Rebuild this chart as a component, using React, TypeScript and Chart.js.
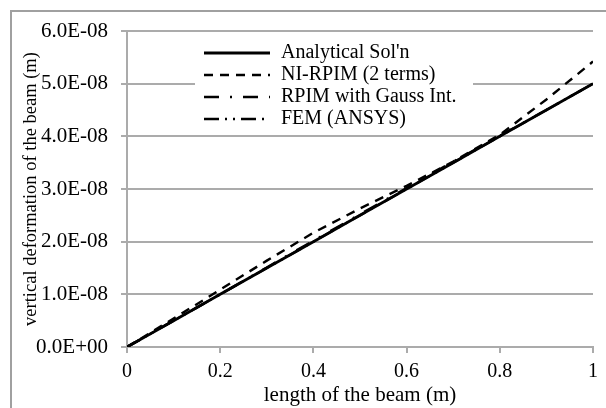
import React, { useEffect, useRef } from "react";
import { Chart, registerables } from "chart.js";

Chart.register(...registerables);

const xValues = [0, 0.1, 0.2, 0.3, 0.4, 0.5, 0.6, 0.7, 0.8, 0.9, 1.0];
const analytical = [0, 0.5e-8, 1.0e-8, 1.5e-8, 2.0e-8, 2.5e-8, 3.0e-8, 3.5e-8, 4.0e-8, 4.5e-8, 5.0e-8];
const niRpim = [0, 0.54e-8, 1.09e-8, 1.64e-8, 2.17e-8, 2.63e-8, 3.06e-8, 3.52e-8, 4.03e-8, 4.7e-8, 5.42e-8];
const rpimGauss = [0, 0.5e-8, 1.0e-8, 1.51e-8, 2.02e-8, 2.52e-8, 3.02e-8, 3.52e-8, 4.01e-8, 4.5e-8, 5.0e-8];
const femAnsys = [0, 0.5e-8, 1.0e-8, 1.5e-8, 2.0e-8, 2.5e-8, 3.0e-8, 3.5e-8, 4.0e-8, 4.5e-8, 5.0e-8];

const seriesNames = ["Analytical Sol'n", "NI-RPIM (2 terms)", "RPIM with Gauss Int.", "FEM (ANSYS)"];
const seriesValues = [analytical, niRpim, rpimGauss, femAnsys];
const seriesDash: number[][] = [[], [9, 7], [15, 11, 2, 11], [15, 6, 2, 6, 2, 6]];
const seriesWidth = [2.8, 2.4, 2.4, 2.4];

const yMin = 0;
const yMax = 6e-8;
const yStep = 1e-8;
const xMin = 0;
const xMax = 1;
const xStep = 0.2;

const FONT = "'Liberation Serif', 'Times New Roman', serif";
const GRID = "#ababab";

function sci(v: number): string {
  if (Math.abs(v) < 1e-20) return "0.0E+00";
  let e = Math.floor(Math.log10(Math.abs(v)) + 1e-9);
  let m = v / Math.pow(10, e);
  if (Math.abs(m) >= 9.95) { m /= 10; e += 1; }
  const sign = e < 0 ? "-" : "+";
  const ae = Math.abs(e);
  return m.toFixed(1) + "E" + sign + (ae < 10 ? "0" + ae : String(ae));
}

const framePlugin = {
  id: "frame",
  beforeDraw(chart: any) {
    const ctx = chart.ctx;
    ctx.save();
    ctx.fillStyle = "#ffffff";
    ctx.fillRect(0, 0, chart.width, chart.height);
    ctx.strokeStyle = "#a0a0a0";
    ctx.lineWidth = 2;
    ctx.strokeRect(11, 11, chart.width + 50, chart.height + 50);
    ctx.restore();
  },
};

const legendPlugin = {
  id: "innerLegend",
  afterDatasetsDraw(chart: any) {
    const ctx = chart.ctx;
    const area = chart.chartArea;
    const boxLeft = area.left + 68;
    const boxTop = area.top + 8;
    const boxW = 278;
    const rowH = 22;
    const firstRow = boxTop + 14;
    ctx.save();
    ctx.fillStyle = "#ffffff";
    ctx.fillRect(boxLeft, boxTop, boxW, rowH * seriesNames.length + 6);
    seriesNames.forEach((name, i) => {
      const y = firstRow + i * rowH;
      const lx0 = boxLeft + 9;
      const lx1 = boxLeft + 75;
      ctx.beginPath();
      ctx.setLineDash(seriesDash[i]);
      ctx.lineWidth = seriesWidth[i];
      ctx.strokeStyle = "#000000";
      ctx.moveTo(lx0, y);
      ctx.lineTo(lx1, y);
      ctx.stroke();
      ctx.setLineDash([]);
      ctx.fillStyle = "#000000";
      ctx.font = "20px " + FONT;
      ctx.textBaseline = "middle";
      ctx.textAlign = "left";
      ctx.fillText(name, boxLeft + 86, y);
    });
    ctx.restore();
  },
};

export default function App() {
  const canvasRef = useRef<HTMLCanvasElement | null>(null);

  useEffect(() => {
    if (!canvasRef.current) return;
    const datasets = seriesNames.map((name, i) => ({
      label: name,
      data: xValues.map((x, j) => ({ x, y: seriesValues[i][j] })),
      borderColor: "#000000",
      backgroundColor: "#000000",
      borderWidth: seriesWidth[i],
      borderDash: seriesDash[i],
      pointRadius: 0,
      fill: false,
      tension: 0,
    }));

    const chart = new Chart(canvasRef.current, {
      type: "line",
      data: { datasets },
      options: {
        animation: false,
        responsive: false,
        devicePixelRatio: 1,
        layout: { padding: { left: 0, top: 31, right: 13, bottom: 0 } },
        plugins: { legend: { display: false }, tooltip: { enabled: false } },
        scales: {
          x: {
            type: "linear",
            min: xMin,
            max: xMax,
            ticks: {
              stepSize: xStep,
              color: "#000000",
              font: { family: FONT, size: 20 },
              padding: 7,
              maxRotation: 0,
              callback: (v: any) => String(Math.round(Number(v) * 10) / 10),
            },
            grid: {
              drawOnChartArea: false,
              drawTicks: true,
              tickLength: 6,
              color: GRID,
              lineWidth: 2,
            },
            border: { display: true, color: GRID, width: 2 },
            title: {
              display: true,
              text: "length of the beam (m)",
              color: "#000000",
              font: { family: FONT, size: 21 },
              padding: { top: 0, bottom: 0 },
            },
            afterFit(scale: any) {
              scale.height = 61;
            },
          },
          y: {
            type: "linear",
            min: yMin,
            max: yMax,
            ticks: {
              stepSize: yStep,
              color: "#000000",
              font: { family: FONT, size: 21 },
              padding: 13,
              callback: (v: any) => sci(Number(v)),
            },
            grid: {
              color: GRID,
              lineWidth: 2,
              drawTicks: true,
              tickLength: 6,
            },
            border: { display: true, color: GRID, width: 2 },
            title: {
              display: true,
              text: "vertical deformation of the beam (m)",
              color: "#000000",
              font: { family: FONT, size: 18.5 },
              padding: { top: 20, bottom: 0 },
            },
            afterFit(scale: any) {
              scale.width = 127;
            },
          },
        },
      },
      plugins: [framePlugin, legendPlugin],
    });
    return () => chart.destroy();
  }, []);

  return (
    <div style={{ position: "absolute", left: 0, top: 0, width: 606, height: 408, background: "#fff" }}>
      <canvas ref={canvasRef} width={606} height={408} style={{ width: 606, height: 408, display: "block" }} />
    </div>
  );
}
